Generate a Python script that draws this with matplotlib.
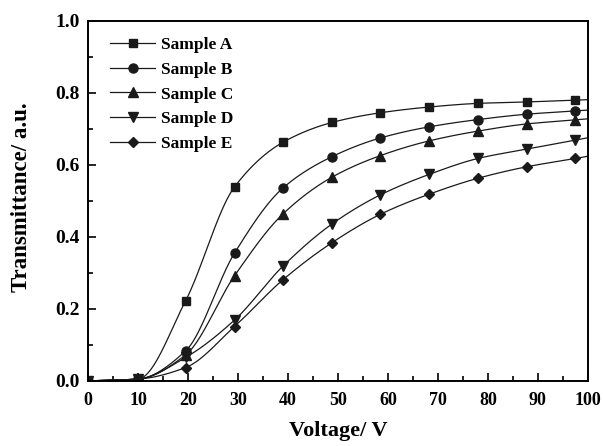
import numpy as np
import matplotlib
matplotlib.use("Agg")
import matplotlib.pyplot as plt
from matplotlib.ticker import MultipleLocator

plt.rcParams['font.family'] = ['Liberation Serif', 'DejaVu Serif']
plt.rcParams['font.weight'] = 'bold'

# measured points
voltage = [0, 10, 19.5, 29.3, 39, 48.8, 58.5, 68.3, 78, 87.8, 97.5]
sample_a = [0.0, 0.005, 0.222, 0.539, 0.663, 0.718, 0.745, 0.761, 0.771, 0.775, 0.780]
sample_b = [0.0, 0.005, 0.083, 0.355, 0.536, 0.623, 0.675, 0.706, 0.726, 0.741, 0.750]
sample_c = [0.0, 0.005, 0.072, 0.292, 0.464, 0.566, 0.626, 0.667, 0.694, 0.714, 0.725]
sample_d = [0.0, 0.005, 0.065, 0.169, 0.319, 0.436, 0.517, 0.574, 0.618, 0.644, 0.669]
sample_e = [0.0, 0.005, 0.037, 0.151, 0.281, 0.384, 0.463, 0.519, 0.563, 0.595, 0.618]

labels = ["Sample A", "Sample B", "Sample C", "Sample D", "Sample E"]
markers = ["s", "o", "^", "v", "D"]
sizes = [5.5, 6.5, 6.5, 6.5, 5.5]


def pchip(x, y, xn):
    # monotone cubic through the points, last piece extended to the axis end
    x = np.asarray(x, float)
    y = np.asarray(y, float)
    h = np.diff(x)
    d = np.diff(y) / h
    m = np.zeros_like(y)
    for k in range(1, len(x) - 1):
        if d[k - 1] * d[k] > 0:
            w1 = 2 * h[k] + h[k - 1]
            w2 = h[k] + 2 * h[k - 1]
            m[k] = (w1 + w2) / (w1 / d[k - 1] + w2 / d[k])
    m[0] = d[0]
    m[-1] = d[-1]
    idx = np.clip(np.searchsorted(x, xn) - 1, 0, len(x) - 2)
    t = (xn - x[idx]) / h[idx]
    h00 = 2 * t**3 - 3 * t**2 + 1
    h10 = t**3 - 2 * t**2 + t
    h01 = -2 * t**3 + 3 * t**2
    h11 = t**3 - t**2
    return h00 * y[idx] + h10 * h[idx] * m[idx] + h01 * y[idx + 1] + h11 * h[idx] * m[idx + 1]


fig = plt.figure(figsize=(6.03, 4.46), dpi=100)
ax = fig.add_axes([0.146, 0.146, 0.829, 0.807])

xs = np.linspace(0, 100, 400)
for ys, lab, mk, ms in zip([sample_a, sample_b, sample_c, sample_d, sample_e], labels, markers, sizes):
    ax.plot(xs, pchip(voltage, ys, xs), color="#1a1a1a", lw=0.9)
    ax.plot(voltage, ys, ls="none", marker=mk, ms=ms, color="#1a1a1a")
    # legend handle with line through marker
    ax.plot([], [], color="#1a1a1a", lw=0.9, marker=mk, ms=ms, label=lab)

ax.set_xlim(0, 100)
ax.set_ylim(0, 1.0)
ax.xaxis.set_major_locator(MultipleLocator(10))
ax.xaxis.set_minor_locator(MultipleLocator(5))
ax.yaxis.set_major_locator(MultipleLocator(0.2))
ax.yaxis.set_minor_locator(MultipleLocator(0.1))
ax.tick_params(which="both", direction="in", top=False, right=False, width=1.2)
ax.tick_params(which="major", length=6)
ax.tick_params(which="minor", length=3.5)
ax.tick_params(axis="x", pad=8, labelsize=13)
ax.tick_params(axis="y", pad=6, labelsize=14)
for sp in ax.spines.values():
    sp.set_linewidth(1.4)

ax.set_xlabel("Voltage/ V", fontsize=16, fontweight="bold", labelpad=9)
ax.set_ylabel("Transmittance/ a.u.", fontsize=16.5, fontweight="bold")
ax.yaxis.set_label_coords(-0.112, 0.51)

ax.legend(loc="upper left", frameon=False, fontsize=12.5, handlelength=2.6,
          handletextpad=0.3, labelspacing=0.5, bbox_to_anchor=(0.02, 0.99), borderaxespad=0.3)

plt.savefig("out.png", dpi=100)
